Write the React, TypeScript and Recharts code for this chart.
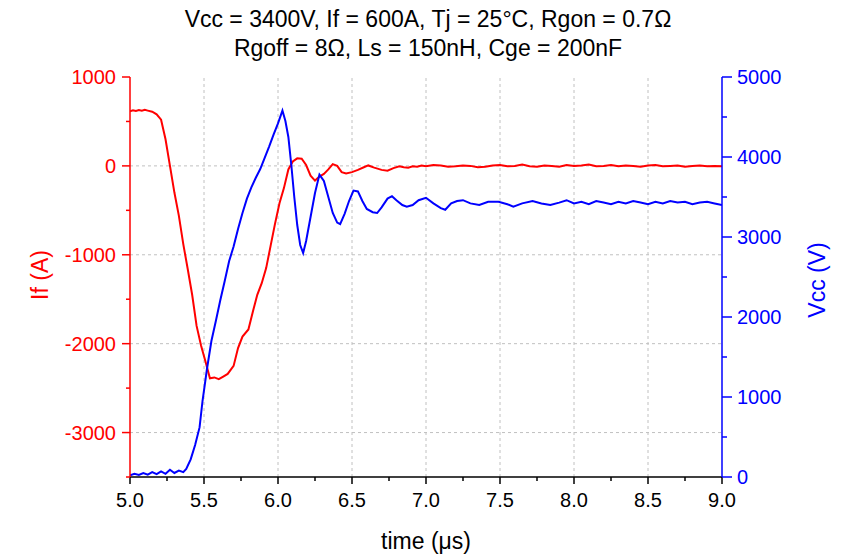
import React from 'react';
import { LineChart, Line, XAxis, YAxis, ReferenceLine } from 'recharts';

document.body.style.margin = '0';

// If (A) trace
const ifTime = [
  5.0, 5.02, 5.04, 5.06, 5.08, 5.1, 5.12, 5.15, 5.18, 5.21, 5.24, 5.27, 5.3, 5.33, 5.36, 5.39, 5.42, 5.45,
  5.48, 5.51, 5.54, 5.57, 5.6, 5.63, 5.66, 5.7, 5.73, 5.76, 5.8, 5.83, 5.86, 5.89, 5.92, 5.95, 5.98, 6.01,
  6.04, 6.07, 6.1, 6.13, 6.16, 6.19, 6.22, 6.25, 6.28, 6.31, 6.34, 6.37, 6.4, 6.43, 6.46, 6.5, 6.54, 6.58,
  6.61, 6.65, 6.7, 6.74, 6.78, 6.82, 6.85, 6.88, 6.91, 6.94, 6.97, 7.0, 7.05, 7.1, 7.15, 7.2, 7.25, 7.3,
  7.35, 7.4, 7.45, 7.5, 7.55, 7.6, 7.65, 7.7, 7.75, 7.8, 7.85, 7.9, 7.95, 8.0, 8.05, 8.1, 8.15, 8.2,
  8.25, 8.3, 8.35, 8.4, 8.45, 8.5, 8.55, 8.6, 8.65, 8.7, 8.75, 8.8, 8.85, 8.9, 8.95, 9.0,
];
const ifValues = [
  615, 625, 618, 628, 620, 630, 622, 610, 580, 520, 300, 0, -300, -560, -880, -1160, -1450, -1800,
  -2020, -2200, -2390, -2380, -2400, -2370, -2340, -2250, -2050, -1920, -1840, -1640, -1450, -1320, -1150, -900, -650, -420,
  -250, -40, 50, 85, 80, 10, -110, -165, -120, -90, -40, 20, 0, -70, -85, -70, -45, -15,
  5, -20, -45, -55, -25, -5, -15, -20, -5, -10, 5, -5, 10, 5, -10, -5, 5, 0,
  -15, -10, 5, 10, -5, 0, 15, -5, -10, 5, 0, -10, 10, 0, 5, 15, -5, 0,
  10, -5, 5, 0, -10, 5, 10, -5, 0, 5, -10, 0, 5, -5, 0, -5,
];

// Vcc (V) trace
const vccTime = [
  5.0, 5.03, 5.06, 5.09, 5.12, 5.15, 5.18, 5.21, 5.24, 5.27, 5.3, 5.33, 5.36, 5.38, 5.41, 5.44, 5.47, 5.49,
  5.52, 5.55, 5.58, 5.61, 5.64, 5.67, 5.7, 5.73, 5.76, 5.79, 5.82, 5.85, 5.88, 5.91, 5.94, 5.97, 6.0, 6.03,
  6.05, 6.07, 6.09, 6.11, 6.13, 6.15, 6.17, 6.19, 6.22, 6.25, 6.28, 6.31, 6.34, 6.37, 6.4, 6.42, 6.45, 6.48,
  6.51, 6.54, 6.57, 6.6, 6.64, 6.67, 6.7, 6.74, 6.77, 6.8, 6.84, 6.87, 6.91, 6.95, 7.0, 7.05, 7.1, 7.13,
  7.17, 7.21, 7.25, 7.3, 7.36, 7.42, 7.49, 7.55, 7.59, 7.65, 7.72, 7.78, 7.84, 7.9, 7.95, 8.0, 8.05, 8.1,
  8.15, 8.2, 8.25, 8.3, 8.35, 8.4, 8.45, 8.5, 8.55, 8.6, 8.65, 8.7, 8.75, 8.8, 8.85, 8.9, 8.95, 9.0,
];
const vccValues = [
  20, 40, 25, 50, 30, 60, 35, 70, 40, 90, 50, 80, 60, 100, 220, 400, 620, 950,
  1350, 1700, 1950, 2210, 2450, 2700, 2880, 3100, 3300, 3480, 3620, 3740, 3850, 3990, 4130, 4280, 4420, 4580,
  4450, 4250, 3900, 3500, 3150, 2900, 2800, 2950, 3250, 3550, 3780, 3700, 3500, 3300, 3180, 3160, 3290, 3450,
  3580, 3570, 3450, 3350, 3310, 3300, 3370, 3480, 3510, 3460, 3400, 3380, 3400, 3460, 3490, 3420, 3360, 3340,
  3420, 3450, 3460, 3420, 3400, 3440, 3440, 3410, 3380, 3420, 3450, 3420, 3400, 3430, 3460, 3420, 3440, 3410,
  3450, 3430, 3410, 3440, 3420, 3450, 3430, 3410, 3440, 3420, 3450, 3430, 3440, 3410, 3430, 3440, 3420, 3400,
];

const xTicks = [5.0, 5.25, 5.5, 5.75, 6.0, 6.25, 6.5, 6.75, 7.0, 7.25, 7.5, 7.75, 8.0, 8.25, 8.5, 8.75, 9.0];
const xGrid = [5.5, 6.0, 6.5, 7.0, 7.5, 8.0, 8.5];
const ifTicks = [-3500, -3000, -2500, -2000, -1500, -1000, -500, 0, 500, 1000];
const ifGrid = [-3000, -2000, -1000, 0];
const vccTicks = [0, 500, 1000, 1500, 2000, 2500, 3000, 3500, 4000, 4500, 5000];

const ifData = ifTime.map((t, i) => ({ t, v: ifValues[i] }));
const vccData = vccTime.map((t, i) => ({ t, v: vccValues[i] }));

const RED = '#ff0000';
const BLUE = '#0000ff';
const FONT = '"Liberation Sans", Arial, sans-serif';

const isMajor = (v: number, step: number) => Math.abs(v / step - Math.round(v / step)) < 1e-6;

const BottomTick = (props: any) => {
  const { x, y, payload } = props;
  const major = isMajor(payload.value, 0.5);
  return (
    <g>
      <line x1={x} x2={x} y1={y} y2={y + (major ? 7 : 4)} stroke="#000" strokeWidth={1.5} />
      {major && (
        <text x={x} y={y + 30} textAnchor="middle" fontSize={20} fill="#000" fontFamily={FONT}>
          {payload.value.toFixed(1)}
        </text>
      )}
    </g>
  );
};

const TopTick = (props: any) => {
  const { x, y, payload } = props;
  const major = isMajor(payload.value, 0.5);
  return <line x1={x} x2={x} y1={y} y2={y + (major ? 8 : 5)} stroke="#000" strokeWidth={1.5} />;
};

const LeftTick = (props: any) => {
  const { x, y, payload } = props;
  const major = isMajor(payload.value, 1000);
  return (
    <g>
      <line x1={x} x2={x - (major ? 8 : 4)} y1={y} y2={y} stroke={RED} strokeWidth={1.5} />
      {major && (
        <text x={x - 14} y={y + 7} textAnchor="end" fontSize={20} fill={RED} fontFamily={FONT}>
          {payload.value}
        </text>
      )}
    </g>
  );
};

const RightTick = (props: any) => {
  const { x, y, payload } = props;
  const major = isMajor(payload.value, 1000);
  return (
    <g>
      <line x1={x} x2={x + (major ? 10 : 5)} y1={y} y2={y} stroke={BLUE} strokeWidth={1.5} />
      {major && (
        <text x={x + 15} y={y + 7} textAnchor="start" fontSize={20} fill={BLUE} fontFamily={FONT}>
          {payload.value}
        </text>
      )}
    </g>
  );
};

export default function App() {
  return (
    <div style={{ position: 'relative', width: 846, height: 556, background: '#fff', fontFamily: FONT }}>
      <div
        style={{
          position: 'absolute', left: 0, top: 5, width: 856, textAlign: 'center',
          fontSize: 23, lineHeight: '29px', color: '#000',
        }}
      >
        <div>Vcc = 3400V, If = 600A, Tj = 25°C, Rgon = 0.7Ω</div>
        <div>Rgoff = 8Ω, Ls = 150nH, Cge = 200nF</div>
      </div>
      <LineChart width={846} height={556} data={ifData} margin={{ top: 77, right: 0, bottom: 0, left: 0 }}>
        <XAxis
          xAxisId="bottom" dataKey="t" type="number" domain={[5, 9]} allowDataOverflow
          ticks={xTicks} interval={0} tickSize={0} tickMargin={0} height={79}
          tick={BottomTick} axisLine={{ stroke: '#000', strokeWidth: 1.5 }}
        />
        <XAxis
          xAxisId="top" orientation="top" dataKey="t" type="number" domain={[5, 9]} allowDataOverflow
          ticks={xTicks} interval={0} tickSize={0} tickMargin={0} height={0}
          tick={TopTick} axisLine={{ stroke: '#000', strokeWidth: 1.5 }}
        />
        <YAxis
          yAxisId="left" type="number" domain={[-3500, 1000]} allowDataOverflow
          ticks={ifTicks} interval={0} tickSize={0} tickMargin={0} width={130}
          tick={LeftTick} axisLine={{ stroke: RED, strokeWidth: 1.5 }}
        />
        <YAxis
          yAxisId="right" orientation="right" type="number" domain={[0, 5000]} allowDataOverflow
          ticks={vccTicks} interval={0} tickSize={0} tickMargin={0} width={124}
          tick={RightTick} axisLine={{ stroke: BLUE, strokeWidth: 1.5 }}
        />
        {xGrid.map((g) => (
          <ReferenceLine key={'x' + g} x={g} xAxisId="bottom" yAxisId="left" stroke="#c0c0c0" strokeDasharray="3 3" />
        ))}
        {ifGrid.map((g) => (
          <ReferenceLine key={'y' + g} y={g} xAxisId="bottom" yAxisId="left" stroke="#c0c0c0" strokeDasharray="3 3" />
        ))}
        <Line
          data={ifData} xAxisId="bottom" yAxisId="left" dataKey="v" type="linear"
          stroke={RED} strokeWidth={2} dot={false} isAnimationActive={false}
        />
        <Line
          data={vccData} xAxisId="bottom" yAxisId="right" dataKey="v" type="linear"
          stroke={BLUE} strokeWidth={2} dot={false} isAnimationActive={false}
        />
      </LineChart>
      <div
        style={{
          position: 'absolute', left: 40, top: 275, transform: 'translate(-50%, -50%) rotate(-90deg)',
          fontSize: 23, color: RED, whiteSpace: 'nowrap',
        }}
      >
        If (A)
      </div>
      <div
        style={{
          position: 'absolute', left: 817, top: 280, transform: 'translate(-50%, -50%) rotate(-90deg)',
          fontSize: 23, color: BLUE, whiteSpace: 'nowrap',
        }}
      >
        Vcc (V)
      </div>
      <div
        style={{
          position: 'absolute', left: 426, top: 541, transform: 'translate(-50%, -50%)',
          fontSize: 23, color: '#000', whiteSpace: 'nowrap',
        }}
      >
        time (μs)
      </div>
    </div>
  );
}
